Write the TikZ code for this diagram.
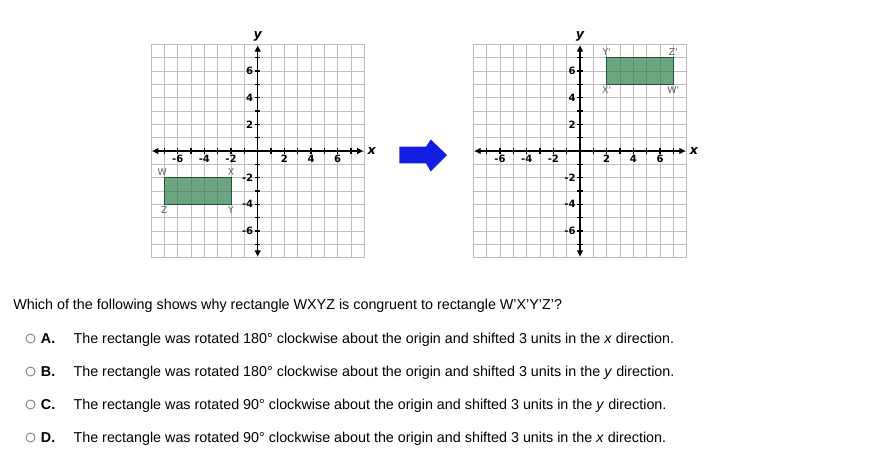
\documentclass[tikz,border=0pt]{standalone}
\usepackage{fontspec}
\setmainfont{Liberation Sans}
\newfontfamily\gridfont{DejaVu Sans}
\usepackage{tikz}
\usetikzlibrary{
  positioning,
  calc,
  arrows.meta
}
\definecolor{gridgray}{RGB}{190,190,190}
\definecolor{rectgreen}{RGB}{47,125,75}
\definecolor{rectedge}{RGB}{30,85,50}
\definecolor{arrowblue}{RGB}{18,30,225}
\definecolor{labelgray}{RGB}{95,95,95}
\definecolor{radiogray}{RGB}{115,115,115}
\tikzstyle{axis}=[{Triangle[length=4.5pt,width=4.5pt]}-{Triangle[length=4.5pt,width=4.5pt]}, line width=0.9pt]
\tikzstyle{gridline}=[gridgray, line width=0.6pt]
\tikzstyle{tick}=[line width=0.9pt]
\tikzstyle{ticklabel}=[inner sep=1pt, font=\gridfont\bfseries\fontsize{7.5}{8}\selectfont]
\tikzstyle{axislabel}=[inner sep=0pt, font=\gridfont\bfseries\itshape\fontsize{9.5}{10}\selectfont]
\tikzstyle{ptlabel}=[inner sep=1pt, labelgray, font=\gridfont\fontsize{7}{8}\selectfont]
\tikzstyle{rect}=[fill=rectgreen, fill opacity=0.7, draw=rectedge, line width=0.8pt]
\tikzstyle{qtext}=[inner sep=0pt, font=\fontsize{10.75}{13}\selectfont]
\tikzstyle{radio}=[circle, draw=radiogray, line width=0.6pt, minimum size=6.8pt, inner sep=0pt]

\begin{document}
\begin{tikzpicture}[x=0.75pt, y=-0.75pt]
    \useasboundingbox (0,0) rectangle (887,460);

    % 座標平面（左：元の長方形，右：移動後の長方形）
    \foreach \p/\ox in {L/257.7, R/580} {
      \begin{scope}[shift={(\ox,151)}, x=10pt, y=10pt]
        % 方眼
        \foreach \g in {-8,...,8} {
          \draw[gridline] (\g,-8) -- (\g,8);
          \draw[gridline] (-8,\g) -- (8,\g);
        }
        % 座標軸
        \draw[axis] (-7.9,0) -- (7.9,0);
        \draw[axis] (0,-7.9) -- (0,7.9);
        \node[axislabel] (\p xlab) at (8.55,0) {x};
        \node[axislabel] (\p ylab) at (0,8.6) {y};
        % 目盛り
        \foreach \t in {-7,...,-1,1,2,...,7} {
          \draw[tick] (\t,-0.2) -- (\t,0.2);
          \draw[tick] (-0.2,\t) -- (0.2,\t);
        }
        \foreach \t in {-6,-4,-2,2,4,6} {
          \node[ticklabel, anchor=north] (\p x\t) at (\t,-0.22) {\t};
          \node[ticklabel, anchor=east] (\p y\t) at (-0.22,\t) {\t};
        }
      \end{scope}
    }

    % 長方形WXYZ
    \begin{scope}[shift={(257.7,151)}, x=10pt, y=10pt]
      \coordinate (W) at (-7,-2);
      \coordinate (X) at (-2,-2);
      \coordinate (Y) at (-2,-4);
      \coordinate (Z) at (-7,-4);
      \filldraw[rect] (W) -- (X) -- (Y) -- (Z) -- cycle;
      \node[ptlabel, above left=0.5pt and -3pt of W] (Wlab) {W};
      \node[ptlabel, above=0.5pt of X] (Xlab) {X};
      \node[ptlabel, below=0.5pt of Y] (Ylab) {Y};
      \node[ptlabel, below=0.5pt of Z] (Zlab) {Z};
    \end{scope}

    % 長方形W'X'Y'Z'
    \begin{scope}[shift={(580,151)}, x=10pt, y=10pt]
      \coordinate (W') at (7,5);
      \coordinate (X') at (2,5);
      \coordinate (Y') at (2,7);
      \coordinate (Z') at (7,7);
      \filldraw[rect] (W') -- (X') -- (Y') -- (Z') -- cycle;
      \node[ptlabel, below=0.5pt of W'] (W'lab) {W'};
      \node[ptlabel, below=0.5pt of X'] (X'lab) {X'};
      \node[ptlabel, above=0.5pt of Y'] (Y'lab) {Y'};
      \node[ptlabel, above=0.5pt of Z'] (Z'lab) {Z'};
    \end{scope}

    % 青い矢印
    \fill[arrowblue] (399.3,146.7) -- (426,146.7) -- (430.7,139.5) -- (447,155)
      -- (430.7,171.5) -- (426,163.3) -- (399.3,163.3) -- cycle;

    % 問題文
    \node[qtext, anchor=base west] (question) at (13,309.8)
      {Which of the following shows why rectangle WXYZ is congruent to rectangle W'X'Y'Z'?};

    % 選択肢
    \foreach \k/\deg/\dir [count=\i] in {A/180/x, B/180/y, C/90/y, D/90/x} {
      \node[radio] (radio\k) at (30.5,305.5+33*\i) {};
      \node[qtext, anchor=base west, font=\fontsize{10.75}{13}\selectfont\bfseries] (key\k) at (40.7,310.3+33*\i) {\k.};
      \node[qtext, anchor=base west] (option\k) at (73.3,310.3+33*\i)
        {The rectangle was rotated \deg° clockwise about the origin and shifted 3 units in the \textit{\dir} direction.};
    }
\end{tikzpicture}
\end{document}
